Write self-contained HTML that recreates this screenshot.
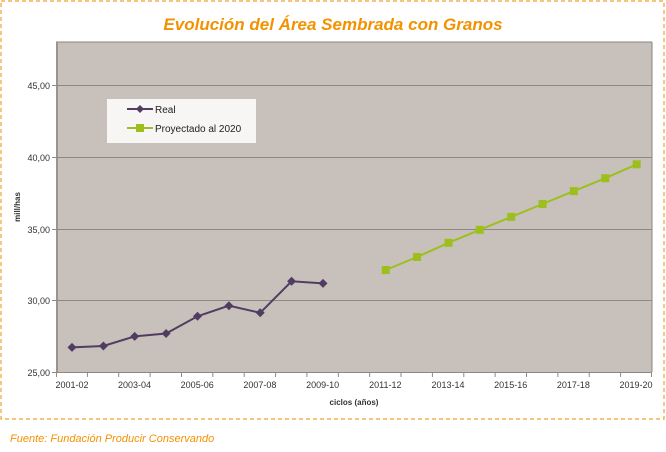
<!DOCTYPE html>
<html><head><meta charset="utf-8"><style>
body{margin:0;background:#fff;width:666px;height:447px;overflow:hidden;font-family:"Liberation Sans",sans-serif}
</style></head><body>
<svg width="666" height="447" xmlns="http://www.w3.org/2000/svg" font-family="Liberation Sans, sans-serif">
<rect x="1" y="1" width="663" height="418" fill="none" stroke="#f0a030" stroke-width="1.2" stroke-dasharray="4,3"/>
<text x="333" y="30" text-anchor="middle" font-size="17" font-weight="bold" font-style="italic" fill="#f39200">Evolución del Área Sembrada con Granos</text>
<rect x="56" y="42" width="596" height="330" fill="#c8c0ba"/>
<line x1="56" y1="42" x2="652" y2="42" stroke="#8a8480" stroke-width="1"/>
<line x1="652" y1="42" x2="652" y2="372" stroke="#8a8480" stroke-width="1"/>
<line x1="57" y1="42" x2="57" y2="372" stroke="#9a948f" stroke-width="2"/>
<g stroke="#8e8884" stroke-width="1">
<line x1="52" y1="85.5" x2="652" y2="85.5"/>
<line x1="52" y1="157.5" x2="652" y2="157.5"/>
<line x1="52" y1="229.5" x2="652" y2="229.5"/>
<line x1="52" y1="300.5" x2="652" y2="300.5"/>
<line x1="52" y1="372.5" x2="652" y2="372.5"/>
</g>
<g stroke="#8e8884"><line x1="56.5" y1="372" x2="56.5" y2="377"/>
<line x1="87.4" y1="372" x2="87.4" y2="377"/><line x1="118.7" y1="372" x2="118.7" y2="377"/><line x1="150.1" y1="372" x2="150.1" y2="377"/><line x1="181.5" y1="372" x2="181.5" y2="377"/><line x1="212.8" y1="372" x2="212.8" y2="377"/><line x1="244.2" y1="372" x2="244.2" y2="377"/><line x1="275.6" y1="372" x2="275.6" y2="377"/><line x1="306.9" y1="372" x2="306.9" y2="377"/><line x1="338.3" y1="372" x2="338.3" y2="377"/><line x1="369.7" y1="372" x2="369.7" y2="377"/><line x1="401" y1="372" x2="401" y2="377"/><line x1="432.4" y1="372" x2="432.4" y2="377"/><line x1="463.8" y1="372" x2="463.8" y2="377"/><line x1="495.1" y1="372" x2="495.1" y2="377"/><line x1="526.5" y1="372" x2="526.5" y2="377"/><line x1="557.9" y1="372" x2="557.9" y2="377"/><line x1="589.2" y1="372" x2="589.2" y2="377"/><line x1="620.6" y1="372" x2="620.6" y2="377"/><line x1="651.5" y1="372" x2="651.5" y2="377"/></g>
<g font-size="9" fill="#333" text-anchor="end">
<text x="50" y="89">45,00</text><text x="50" y="161">40,00</text><text x="50" y="233">35,00</text><text x="50" y="304">30,00</text><text x="50" y="376">25,00</text>
</g>
<g font-size="9" fill="#333" text-anchor="middle">
<text x="72" y="388">2001-02</text><text x="134.5" y="388">2003-04</text><text x="197.2" y="388">2005-06</text><text x="259.9" y="388">2007-08</text><text x="322.6" y="388">2009-10</text><text x="385.3" y="388">2011-12</text><text x="448" y="388">2013-14</text><text x="510.7" y="388">2015-16</text><text x="573.4" y="388">2017-18</text><text x="636" y="388">2019-20</text>
</g>
<text x="354" y="405" text-anchor="middle" font-size="8" font-weight="bold" fill="#333">ciclos (años)</text>
<text transform="translate(20,207) rotate(-90)" text-anchor="middle" font-size="8" font-weight="bold" fill="#333">mill/has</text>
<polyline fill="none" stroke="#523d62" stroke-width="2" points="72,347.4 103.4,346 134.7,336.4 166.1,333.5 197.5,316.3 228.9,305.7 260.2,312.8 291.6,281.3 323,283.4"/>
<g fill="#523d62">
<path d="M72,342.9l4.5,4.5-4.5,4.5-4.5-4.5z"/><path d="M103.4,341.5l4.5,4.5-4.5,4.5-4.5-4.5z"/><path d="M134.7,331.9l4.5,4.5-4.5,4.5-4.5-4.5z"/><path d="M166.1,329l4.5,4.5-4.5,4.5-4.5-4.5z"/><path d="M197.5,311.8l4.5,4.5-4.5,4.5-4.5-4.5z"/><path d="M228.9,301.2l4.5,4.5-4.5,4.5-4.5-4.5z"/><path d="M260.2,308.3l4.5,4.5-4.5,4.5-4.5-4.5z"/><path d="M291.6,276.8l4.5,4.5-4.5,4.5-4.5-4.5z"/><path d="M323,278.9l4.5,4.5-4.5,4.5-4.5-4.5z"/>
</g>
<polyline fill="none" stroke="#9dbf1e" stroke-width="2" points="385.7,270 417.1,257 448.5,242.8 479.8,229.8 511.2,216.9 542.6,204 573.9,191.1 605.3,178.2 636.7,164.3"/>
<g fill="#9dbf1e">
<rect x="381.7" y="266" width="8" height="8"/><rect x="413.1" y="253" width="8" height="8"/><rect x="444.5" y="238.8" width="8" height="8"/><rect x="475.8" y="225.8" width="8" height="8"/><rect x="507.2" y="212.9" width="8" height="8"/><rect x="538.6" y="200" width="8" height="8"/><rect x="569.9" y="187.1" width="8" height="8"/><rect x="601.3" y="174.2" width="8" height="8"/><rect x="632.7" y="160.3" width="8" height="8"/>
</g>
<rect x="107" y="99" width="149" height="44" fill="#f7f6f4"/>
<line x1="127" y1="109" x2="153" y2="109" stroke="#523d62" stroke-width="2"/>
<path d="M140,105l4,4-4,4-4-4z" fill="#523d62"/>
<text x="155" y="113" font-size="10" fill="#222">Real</text>
<line x1="127" y1="128" x2="153" y2="128" stroke="#9dbf1e" stroke-width="2"/>
<rect x="136" y="124" width="8" height="8" fill="#9dbf1e"/>
<text x="155" y="132" font-size="10" fill="#222">Proyectado al 2020</text>
<text x="10" y="442" font-size="11" font-style="italic" fill="#f39200">Fuente: Fundación Producir Conservando</text>
</svg>
</body></html>
